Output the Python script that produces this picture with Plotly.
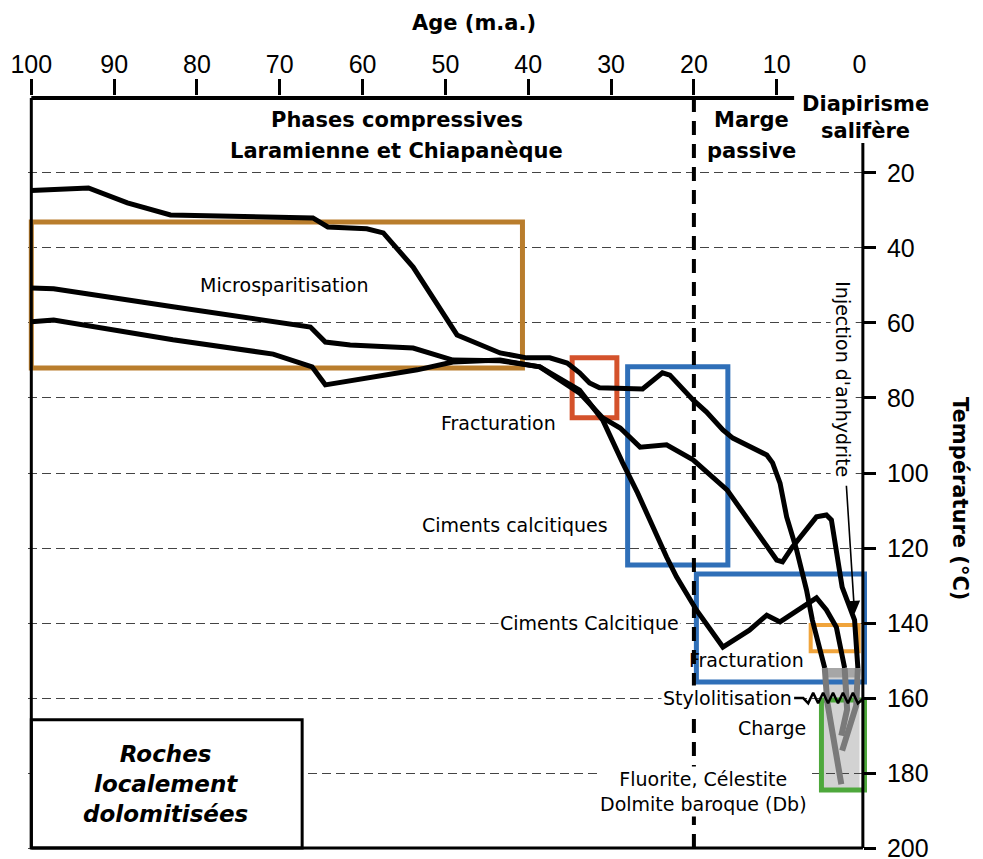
import plotly.graph_objects as go

# axis ticks
age_ticks = [100, 90, 80, 70, 60, 50, 40, 30, 20, 10]
temp_ticks = [20, 40, 60, 80, 100, 120, 140, 160, 180, 200]

# burial / temperature paths (age in m.a., temperature in degC)
age_a = [100, 97.3, 93.1, 88.4, 83.2, 66.0, 64.2, 59.5, 57.5, 53.9, 48.6, 43.4, 40.2,
         37.4, 35.3, 33.8, 32.6, 31.4, 26.2, 23.8, 22.9, 20.1, 18.5, 16.5, 15.3, 11.2,
         10.5, 9.6, 8.8, 7.6, 6.4, 5.7, 5.1, 4.2]
temp_a = [24.7, 24.3, 24.0, 28.0, 31.2, 32.0, 34.4, 34.9, 36.0, 45.1, 63.2, 68.0, 69.3,
          69.3, 70.7, 73.3, 76.0, 77.3, 77.6, 73.3, 73.9, 80.5, 83.7, 88.5, 90.7, 95.2,
          97.3, 102.7, 111.7, 120.5, 131.2, 139.2, 144.5, 152.0]

age_b = [100, 97.3, 82.9, 66.3, 64.5, 61.5, 53.9, 49.1, 43.4,
         38.6, 33.8, 31.0, 28.9, 26.5, 23.3, 20.1, 16.0, 14.5,
         10.0, 9.3, 8.1, 5.2, 4.0, 3.4, 2.8, 2.1, 1.2, 0.6, 0.2]
temp_b = [50.7, 50.9, 55.7, 61.1, 65.1, 65.9, 66.7, 69.9, 70.1,
          71.7, 78.7, 85.3, 88.0, 93.1, 92.5, 96.5, 104.5, 109.1,
          123.2, 123.7, 119.7, 111.7, 111.2, 112.5, 121.3, 130.4, 135.7, 139.2, 152.0]

age_c = [100, 97.3, 82.9, 70.8, 66.1, 64.5, 53.4, 49.1, 43.4,
         38.6, 33.8, 31.0, 28.6, 26.8, 23.3, 22.1, 19.7, 16.5,
         13.3, 11.2, 9.6, 5.2, 4.0, 2.8, 1.8]
temp_c = [59.7, 59.2, 64.5, 68.3, 71.7, 76.5, 72.5, 70.4, 69.9,
          71.7, 77.9, 85.9, 97.3, 105.3, 122.4, 127.7, 136.5, 146.4,
          141.9, 137.9, 139.7, 133.3, 136.5, 141.1, 152.0]

# grey ends of the paths (charge)
grey_age_1 = [4.2, 3.9, 2.2]
grey_temp_1 = [152, 161, 183]
grey_age_2 = [0.2, 0.4, 2.1]
grey_temp_2 = [152, 162, 174]
grey_age_3 = [1.8, 1.5, 2.2]
grey_temp_3 = [152, 163, 170]

# stylolite zigzag
stylo_age = [7.9, 6.8, 6.2, 5.6, 5.0, 4.4, 3.8, 3.2, 2.6, 2.0, 1.4, 0.8, 0.2, -0.5]
stylo_temp = [160, 160, 161.4, 158.6, 161.4, 158.6, 161.4, 158.6, 161.4, 158.6,
              161.4, 158.6, 161.4, 160]

# diagenetic phases: (oldest age, youngest age, top temp, bottom temp)
micro_box = (100, 40.7, 33.1, 72.0)
fract1_box = (34.7, 29.3, 69.3, 85.3)
ciment1_box = (28.0, 15.9, 71.7, 124.5)
ciment2_box = (19.7, -0.6, 126.9, 155.7)
fract2_box = (5.9, 0.1, 140.5, 147.5)
charge_box = (4.6, -0.6, 160.5, 184.5)
roches_box = (100, 67.3, 165.8, 200)

TXT = "DejaVu Sans"
NUM = "Liberation Sans, Arial"

fig = go.Figure()

for ag, tp in [(age_a, temp_a), (age_b, temp_b), (age_c, temp_c)]:
    fig.add_trace(go.Scatter(x=ag, y=tp, mode="lines",
                             line=dict(color="black", width=5), hoverinfo="skip"))

for ag, tp in [(grey_age_1, grey_temp_1), (grey_age_2, grey_temp_2), (grey_age_3, grey_temp_3)]:
    fig.add_trace(go.Scatter(x=ag, y=tp, mode="lines",
                             line=dict(color="#7a7a7a", width=6), hoverinfo="skip"))

fig.add_trace(go.Scatter(x=stylo_age, y=stylo_temp, mode="lines", xaxis="x2",
                         line=dict(color="black", width=2.5), hoverinfo="skip"))


def box(b, color, width=5, layer="between", fill=None):
    fig.add_shape(type="rect", x0=b[0], x1=b[1], y0=b[2], y1=b[3],
                  line=dict(color=color, width=width), fillcolor=fill, layer=layer)


# grey shading of the charge zone
fig.add_shape(type="rect", x0=4.3, x1=0.0, y0=152, y1=184.5,
              fillcolor="#d2d2d2", line_width=0, layer="below")
fig.add_shape(type="rect", x0=4.3, x1=0.0, y0=152, y1=154.5,
              fillcolor="#a6a6a6", line_width=0, layer="below")

box(micro_box, "#b97d2c")
box(fract1_box, "#d4522b")
box(ciment1_box, "#2f6fb8")
box(ciment2_box, "#2f6fb8")
box(fract2_box, "#f0a43c", width=4)
box(charge_box, "#4ea83c")
box(roches_box, "black", width=3, layer="above", fill="white")

# frame
fig.add_shape(type="line", x0=100, x1=7.9, y0=0, y1=0, line=dict(color="black", width=4), layer="above")
fig.add_shape(type="line", x0=100, x1=100, y0=0, y1=200, line=dict(color="black", width=3), layer="above")
fig.add_shape(type="line", x0=100, x1=-0.4, y0=200, y1=200, line=dict(color="black", width=3), layer="above")
fig.add_shape(type="line", x0=-0.4, x1=-0.4, y0=12, y1=200, line=dict(color="black", width=3), layer="above")
fig.add_shape(type="line", x0=20, x1=20, y0=0, y1=200,
              line=dict(color="black", width=4, dash="14px,9px"), layer="between")

ann = []


def text(x, y, s, size=19, bold=False, italic=False, bg=None, angle=0, ref="data"):
    t = s
    if bold:
        t = "<b>" + t + "</b>"
    if italic:
        t = "<i>" + t + "</i>"
    d = dict(x=x, y=y, text=t, showarrow=False, textangle=angle,
             xanchor="center", yanchor="middle",
             font=dict(family=TXT, size=size, color="black"))
    if ref == "paper":
        d.update(xref="paper", yref="paper")
    else:
        d.update(xref="x", yref="y")
    if bg:
        d.update(bgcolor=bg, borderpad=1)
    ann.append(d)


text(0.5316, 1.097, "Age (m.a.)", size=21, bold=True, ref="paper")
text(55.9, 5.9, "Phases compressives", size=21, bold=True)
text(55.9, 14.2, "Laramienne et Chiapanèque", size=21, bold=True)
text(13.1, 5.9, "Marge", size=21, bold=True)
text(13.1, 14.2, "passive", size=21, bold=True)
text(0.9988, 0.9894, "Diapirisme", size=21, bold=True, ref="paper")
text(0.9988, 0.9536, "salifère", size=21, bold=True, ref="paper")
text(1.1109, 0.4668, "Température (°C)", size=21, bold=True, angle=90, ref="paper")

text(69.4, 49.9, "Microsparitisation")
text(43.6, 86.7, "Fracturation")
text(41.6, 113.9, "Ciments calcitiques")
text(32.6, 140.0, "Ciments Calcitique", bg="white")
text(13.7, 149.9, "Fracturation")
text(15.9, 160.0, "Stylolitisation", bg="white")
text(10.6, 168.0, "Charge")
text(18.8, 184.9, "Fluorite, Célestite<br>Dolmite baroque (Db)", bg="white")
text(2.0, 75.0, "Injection d'anhydrite", angle=90, bg="white")
text(83.8, 182.8, "Roches<br>localement<br>dolomitisées", size=23, bold=True, italic=True)

ann.append(dict(x=0.6, y=137.5, ax=1.6, ay=103.0, xref="x", yref="y", axref="x", ayref="y",
                text="", showarrow=True, arrowhead=2, arrowsize=1.6, arrowwidth=1.6,
                arrowcolor="black"))

fig.update_layout(
    width=983, height=859,
    margin=dict(l=20, r=124, t=88, b=17),
    plot_bgcolor="white", paper_bgcolor="white",
    showlegend=False,
    annotations=ann,
    xaxis=dict(side="top", range=[100.4, -0.9], tickmode="array", tickvals=age_ticks,
               ticks="outside", ticklen=16, tickwidth=3, tickcolor="black",
               ticklabelstandoff=-4, automargin=False,
               tickfont=dict(family=NUM, size=25, color="black"),
               showgrid=False, zeroline=False, showline=False),
    xaxis2=dict(side="top", overlaying="x", anchor="y", range=[100.4, -0.9],
                tickmode="array", tickvals=[0],
                ticks="outside", ticklen=16, tickwidth=3, tickcolor="rgba(0,0,0,0)",
                ticklabelstandoff=-4, automargin=False,
                tickfont=dict(family=NUM, size=25, color="black"),
                showgrid=False, zeroline=False, showline=False),
    yaxis=dict(side="right", anchor="free", position=0.9952, range=[200.5, -0.5],
               tickmode="array", tickvals=temp_ticks,
               ticks="outside", ticklen=12, tickwidth=3, tickcolor="black",
               ticklabelstandoff=6, automargin=False,
               tickfont=dict(family=NUM, size=25, color="black"),
               showgrid=True, gridcolor="#444444", gridwidth=1, griddash="9px,5px",
               zeroline=False, showline=False),
)

fig.write_html("out.html")
